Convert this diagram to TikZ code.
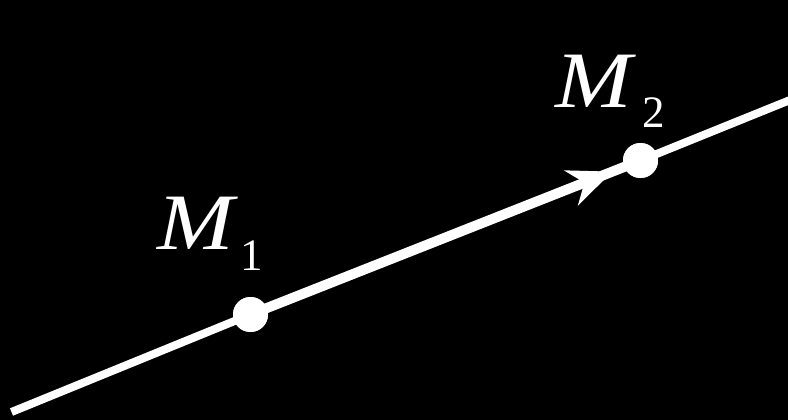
\documentclass[tikz,border=0pt]{standalone}
\usepackage{fontspec}
\setmainfont{Liberation Serif}
\usetikzlibrary{arrows.meta,decorations.markings}

\begin{document}
\begin{tikzpicture}[x=1pt,y=-1pt,
    thinline/.style={white, line width=8pt},
    thickline/.style={white, line width=10pt},
    dot/.style={circle, fill=white, inner sep=0pt, minimum size=35pt},
    ptlabel/.style={white, anchor=base west, inner sep=0pt,
      font=\fontsize{80}{80}\selectfont\itshape},
    subidx/.style={white, anchor=base west, inner sep=0pt,
      font=\fontsize{45}{45}\selectfont}]
  % black background, fixes the size
  \fill[black] (0,0) rectangle (788,420);
  \useasboundingbox (0,0) rectangle (788,420);
  \clip (0,0) rectangle (788,420);

  % the two points
  \node[dot] (m1) at (250.5,314.5) {};
  \node[dot] (m2) at (640.5,160.5) {};
  \coordinate (start) at (11.5,412);
  \coordinate (end) at (800,96);

  % the line, thicker between the points
  \draw[thinline] (start) -- (m1.center);
  \draw[thinline] (m2.center) -- (end);
  \draw[thickline, postaction={decorate, decoration={markings,
      mark=at position 0.928 with {\arrow{Stealth[length=44pt, width=37pt, inset=14pt]}}}}]
    (m1.center) -- (m2.center);
  \node[dot] at (m1) {};
  \node[dot] at (m2) {};

  % labels
  \node[ptlabel] (lab1) at (157,249) {\scalebox{1.15}[1]{M}};
  \node[subidx] (idx1) at (240,270) {1};
  \node[ptlabel] (lab2) at (555,107) {\scalebox{1.15}[1]{M}};
  \node[subidx] (idx2) at (642,128) {2};
\end{tikzpicture}
\end{document}
